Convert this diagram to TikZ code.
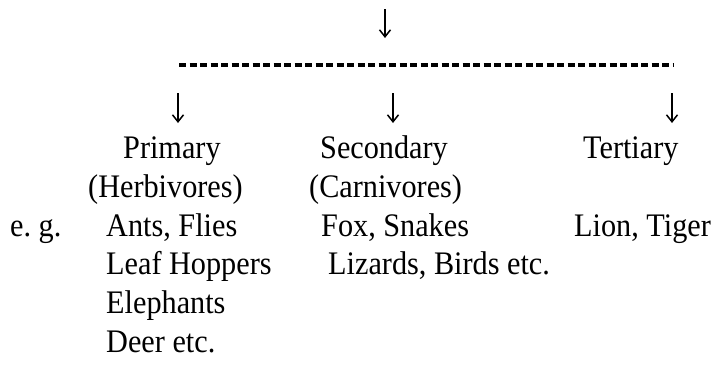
\documentclass[tikz,border=0pt]{standalone}
\usepackage{fontspec}
\setmainfont{Liberation Serif}
\usetikzlibrary{arrows.meta}
\usetikzlibrary{positioning}

\begin{document}
\begin{tikzpicture}[x=1bp,y=-1bp]
\tikzset{
  txt/.style={anchor=base west,inner sep=0pt,xscale=0.92,font=\fontsize{33}{39}\selectfont},
  down/.style={-{Straight Barb[length=7bp,width=11bp]},line width=1.5bp},
  hyphens/.style={line width=3.4bp,dash pattern=on 7bp off 3.5bp}
}
\useasboundingbox (0,0) rectangle (720,371);
%arrow into the split line
\coordinate (top) at (385,9);
\coordinate (topend) at (385,38);
\coordinate (splitl) at (179,65);
\coordinate (splitr) at (673,65);
%level names
\node[txt] (prim) at (123,158) {Primary};
\node[txt] (herb) at (88,197) {(Herbivores)};
\node[txt] (sec) at (320,158) {Secondary};
\node[txt] (carn) at (309,197) {(Carnivores)};
\node[txt] (ter) at (583,158) {Tertiary};
%examples
\node[txt] (eg) at (10,236) {e.\ g.};
\node[txt] (ants) at (106,236) {Ants, Flies};
\node[txt] (leaf) at (106,274) {Leaf Hoppers};
\node[txt] (eleph) at (106,313) {Elephants};
\node[txt] (deer) at (106,352) {Deer etc.};
\node[txt] (fox) at (321,236) {Fox, Snakes};
\node[txt] (liz) at (328,274) {Lizards, Birds etc.};
\node[txt] (lion) at (574,236) {Lion, Tiger};
%branch arrows
\coordinate (a1) at (178,93);
\coordinate (a2) at (393,93);
\coordinate (a3) at (672,93);
\draw[down] (top) -- (topend);
\draw[hyphens] (splitl) -- (splitr);
\foreach \a in {a1,a2,a3}
  \draw[down] (\a) -- ++(0,30);
\end{tikzpicture}
\end{document}
